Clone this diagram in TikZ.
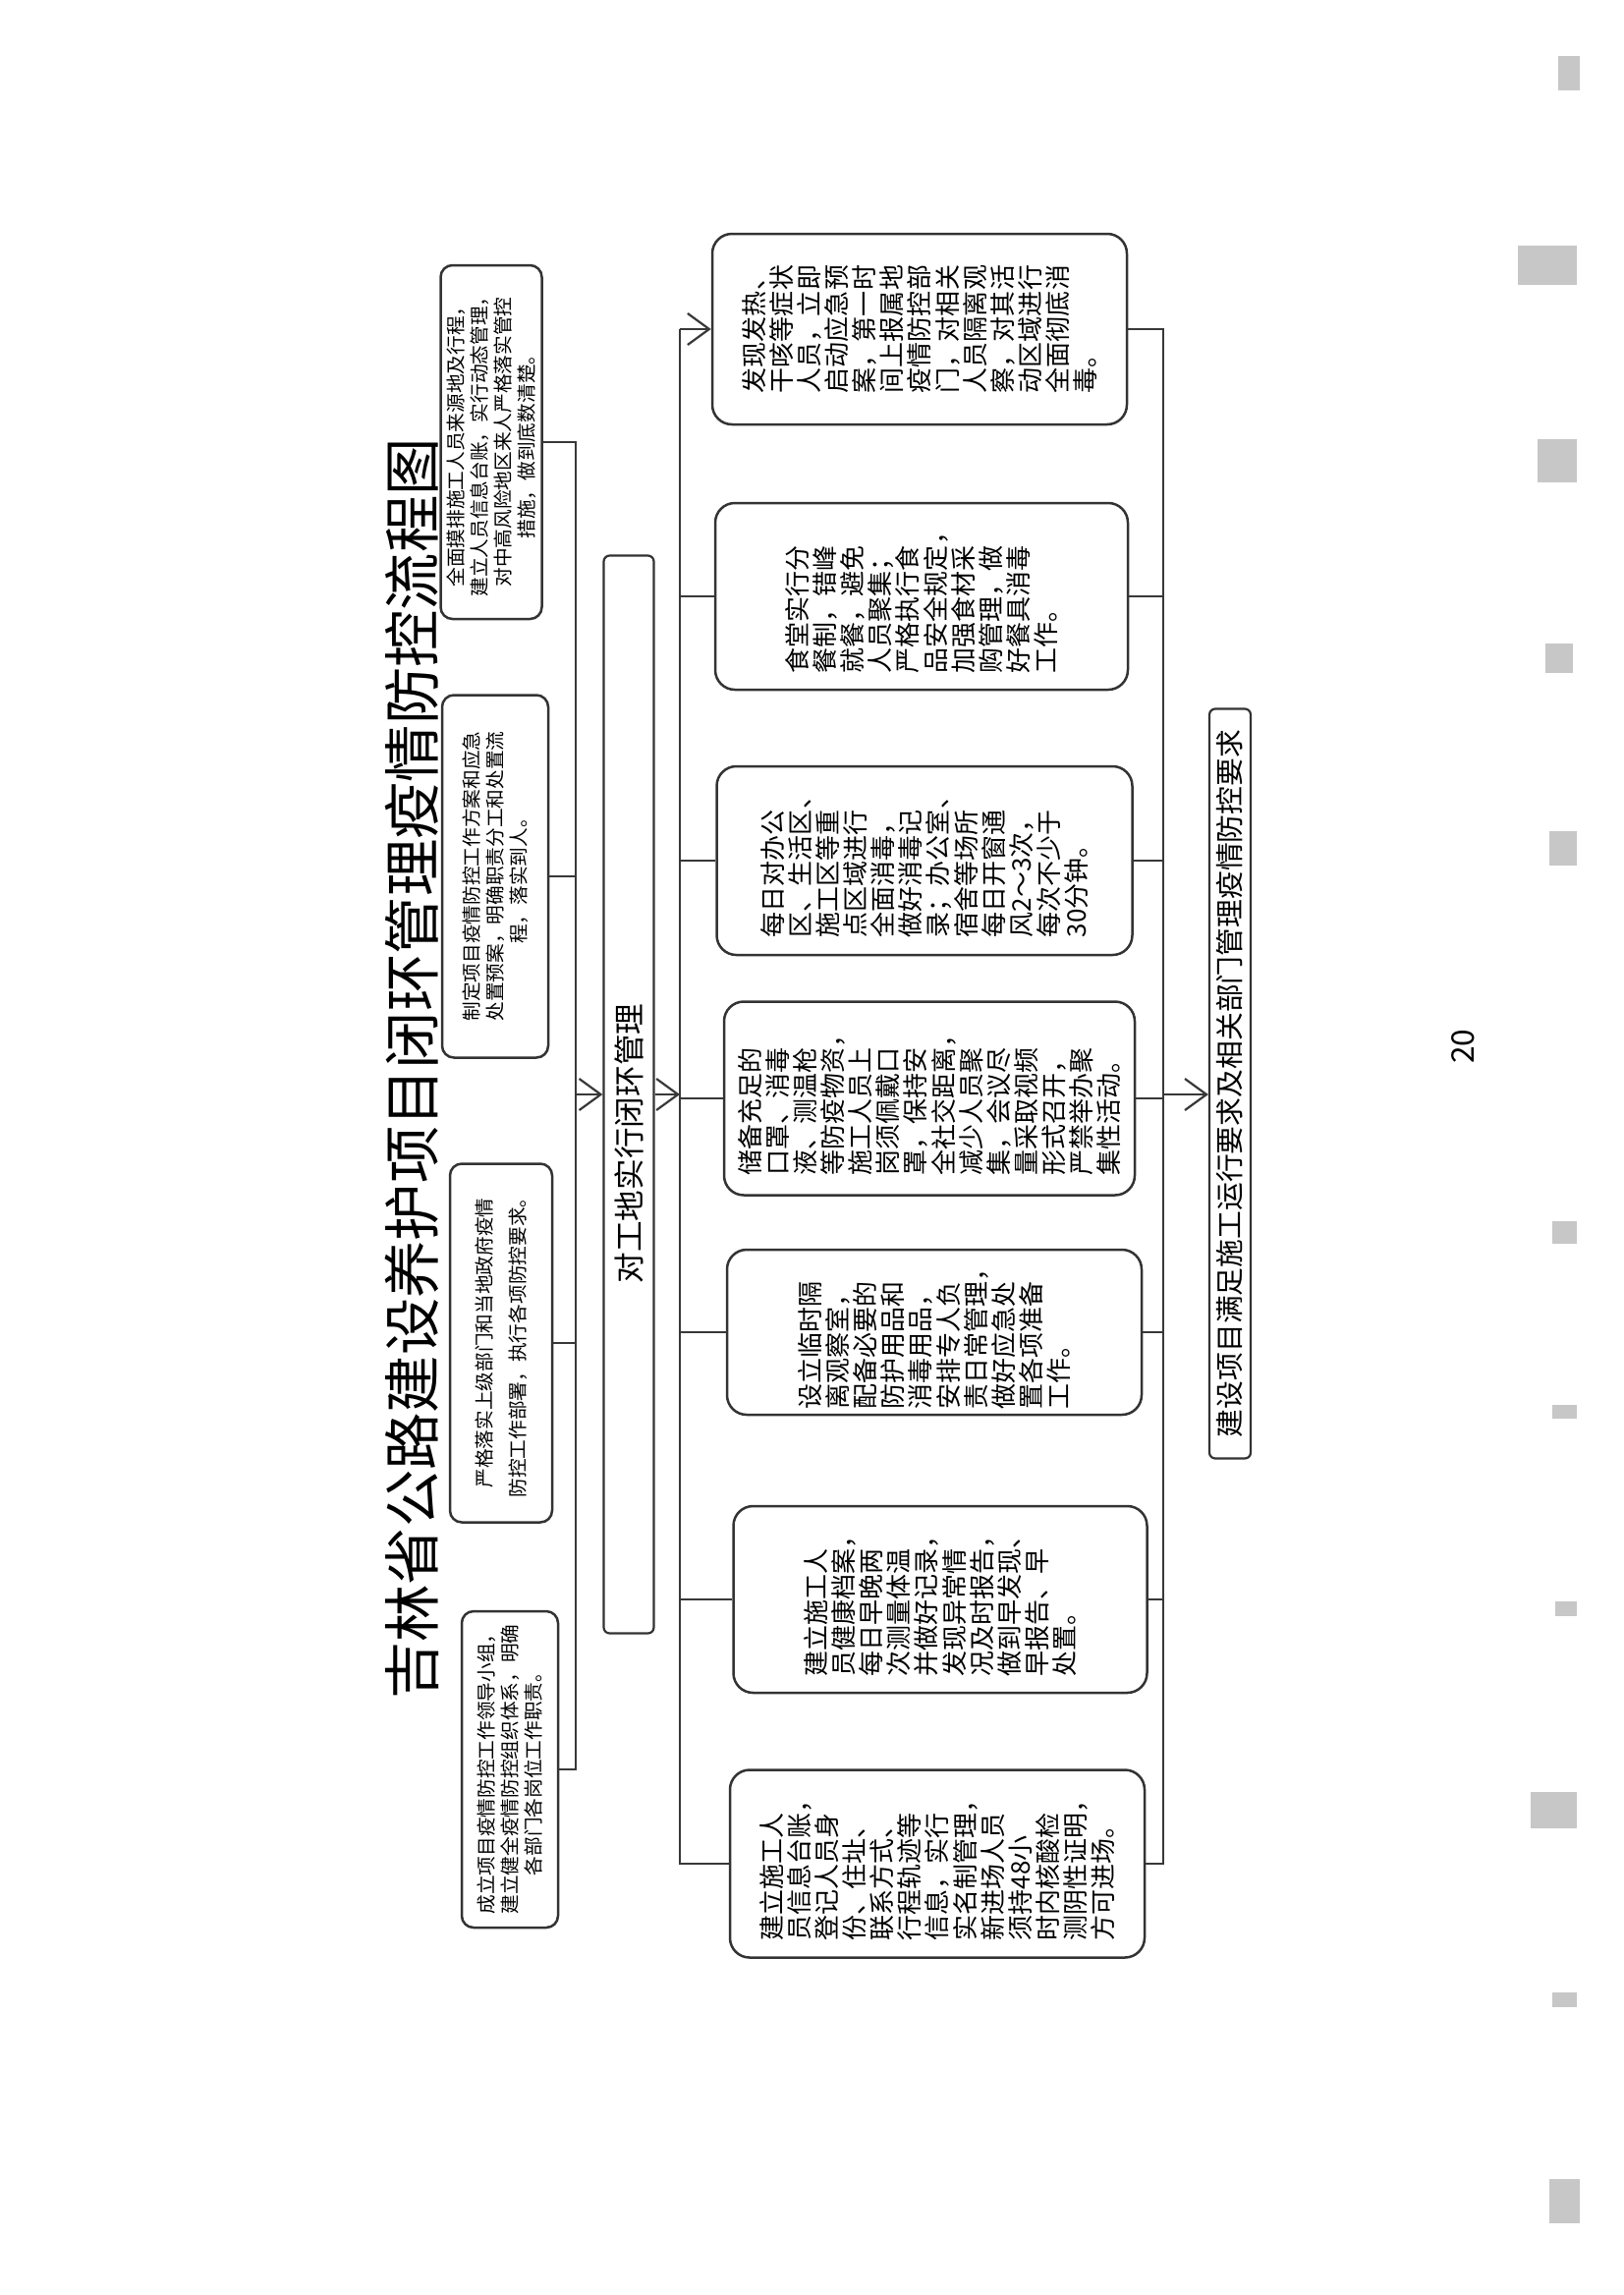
\documentclass[tikz,border=0pt]{standalone}
\usepackage{fontspec}
\setmainfont{Noto Sans CJK SC}
\usetikzlibrary{arrows.meta}
\begin{document}
\begin{tikzpicture}[x=0.1mm,y=-0.1mm,
  conn/.style={draw=black!78, line width=0.22mm},
  arr/.style={-{Straight Barb[length=2.2mm,width=3.2mm]}},
  lbox/.style={draw=black!80, line width=0.25mm, rounded corners=1.2mm, rotate=90, inner sep=0pt, align=center, fill=white,
    font=\fontsize{5.6pt}{6.8pt}\selectfont},
  rbox/.style={draw=black!80, line width=0.25mm, rounded corners=2mm, rotate=90, inner sep=0pt, align=left, fill=white,
    font=\fontsize{7.4pt}{8pt}\selectfont},
  barbox/.style={draw=black!80, line width=0.22mm, rounded corners=0.6mm, rotate=90, inner sep=0pt, fill=white},
  smudge/.style={fill=black!22, draw=none}
]
\useasboundingbox (0,0) rectangle (1653,2336);
\fill[white] (0,0) rectangle (1653,2336);

% scan marks at the right edge
\fill[smudge] (1586,57) rectangle (1608,92);
\fill[smudge] (1545,250) rectangle (1605,290);
\fill[smudge] (1565,447) rectangle (1605,491);
\fill[smudge] (1573,655) rectangle (1601,685);
\fill[smudge] (1577,846) rectangle (1605,881);
\fill[smudge] (1580,1243) rectangle (1605,1266);
\fill[smudge] (1580,1430) rectangle (1605,1444);
\fill[smudge] (1583,1630) rectangle (1605,1645);
\fill[smudge] (1558,1824) rectangle (1605,1861);
\fill[smudge] (1580,2028) rectangle (1605,2043);
\fill[smudge] (1577,2218) rectangle (1608,2263);

% page number
\node[rotate=90, font=\fontsize{9pt}{10pt}\selectfont] (pg) at (1489,1065) {20};

% left boxes
\node[lbox, minimum width=36mm, minimum height=10.3mm] (L1) at (500,450)
 {全面摸排施工人员来源地及行程，\\建立人员信息台账，实行动态管理，\\对中高风险地区来人严格落实管控\\措施，做到底数清楚。};
\node[lbox, minimum width=36.9mm, minimum height=10.8mm] (L2) at (504,892)
 {制定项目疫情防控工作方案和应急\\处置预案，明确职责分工和处置流\\程，落实到人。};
\node[lbox, minimum width=36.5mm, minimum height=10.4mm] (L3) at (510,1367)
 {严格落实上级部门和当地政府疫情\\[3pt]防控工作部署，执行各项防控要求。};
\node[lbox, minimum width=32.2mm, minimum height=9.8mm] (L4) at (519,1801)
 {成立项目疫情防控工作领导小组，\\建立健全疫情防控组织体系，明确\\各部门各岗位工作职责。};

% title (drawn after the boxes so that it stays visible)
\node[rotate=90, font=\fontsize{16.6pt}{20pt}\selectfont] (title) at (419,1088) {吉林省公路建设养护项目闭环管理疫情防控流程图};

% middle bar
\node[barbox, minimum width=109.7mm, minimum height=5.1mm, font=\fontsize{9pt}{10pt}\selectfont] (mid) at (640,1114)
 {对工地实行闭环管理\hspace*{10mm}};

% right boxes
\node[rbox, minimum width=19.4mm, minimum height=42.2mm] (B1) at (936,335)
 {发现发热、\\干咳等症状\\人员，立即\\启动应急预\\案，第一时\\间上报属地\\疫情防控部\\门，对相关\\人员隔离观\\察，对其活\\动区域进行\\全面彻底消\\毒。};
\node[rbox, minimum width=19mm, minimum height=42mm] (B2) at (938,607)
 {食堂实行分\\餐制，错峰\\就餐，避免\\人员聚集；\\严格执行食\\品安全规定，\\加强食材采\\购管理，做\\好餐具消毒\\工作。};
\node[rbox, minimum width=19.2mm, minimum height=42.3mm] (B3) at (941,876)
 {每日对办公\\区、生活区、\\施工区等重\\点区域进行\\全面消毒，\\做好消毒记\\录；办公室、\\宿舍等场所\\每日开窗通\\风2～3次，\\每次不少于\\30分钟。};
\node[rbox, minimum width=19.7mm, minimum height=41.8mm] (B4) at (946,1118)
 {储备充足的\\口罩、消毒\\液、测温枪\\等防疫物资，\\施工人员上\\岗须佩戴口\\罩，保持安\\全社交距离，\\减少人员聚\\集，会议尽\\量采取视频\\形式召开，\\严禁举办聚\\集性活动。};
\node[rbox, minimum width=16.8mm, minimum height=42.2mm] (B5) at (951,1356)
 {设立临时隔\\离观察室，\\配备必要的\\防护用品和\\消毒用品，\\安排专人负\\责日常管理，\\做好应急处\\置各项准备\\工作。};
\node[rbox, minimum width=19mm, minimum height=42.1mm] (B6) at (957,1628)
 {建立施工人\\员健康档案，\\每日早晚两\\次测量体温\\并做好记录，\\发现异常情\\况及时报告，\\做到早发现、\\早报告、早\\处置。};
\node[rbox, minimum width=19.1mm, minimum height=42.2mm] (B7) at (954,1897)
 {建立施工人\\员信息台账，\\登记人员身\\份、住址、\\联系方式、\\行程轨迹等\\信息，实行\\实名制管理，\\新进场人员\\须持48小\\时内核酸检\\测阴性证明，\\方可进场。};

% bottom bar
\node[barbox, minimum width=76.3mm, minimum height=4.2mm, font=\fontsize{8.2pt}{9pt}\selectfont] (bot) at (1252,1103)
 {建设项目满足施工运行要求及相关部门管理疫情防控要求};

% trunk x positions
\coordinate (ltx) at (586,0);
\coordinate (rtx) at (692,0);
\coordinate (rrx) at (1184,0);

% left trunk
\draw[conn] (L1.south) -- (L1.south -| ltx) -- (L4.south -| ltx) -- (L4.south);
\draw[conn] (L2.south) -- (L2.south -| ltx);
\draw[conn] (L3.south) -- (L3.south -| ltx);
\draw[conn,arr] (mid.north -| ltx) -- (mid.north);

% middle to right trunk
\draw[conn,arr] (mid.south) -- (mid.south -| rtx);
\draw[conn] (B1.north -| rtx) -- (B7.north -| rtx) -- (B7.north);
\draw[conn,arr] (B1.north -| rtx) -- (B1.north);
\foreach \b in {B2,B3,B4,B5,B6}{\draw[conn] (\b.north -| rtx) -- (\b.north);}

% right trunk
\draw[conn] (B1.south) -- (B1.south -| rrx) -- (B7.south -| rrx) -- (B7.south);
\foreach \b in {B2,B3,B4,B5,B6}{\draw[conn] (\b.south) -- (\b.south -| rrx);}
\draw[conn,arr] (mid.south -| rrx) -- (mid.south -| bot.north);
\end{tikzpicture}
\end{document}
